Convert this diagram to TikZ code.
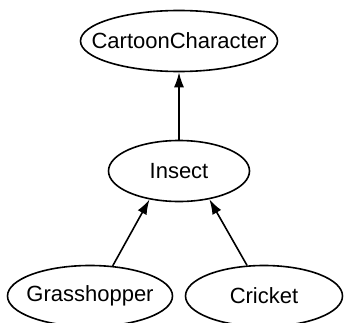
\documentclass[tikz,border=0pt]{standalone}
\usepackage{fontspec}
\setmainfont{Liberation Sans}
\usetikzlibrary{shapes.geometric,arrows.meta}
\begin{document}
\begin{tikzpicture}[x=1pt,y=1pt,
    ovale/.style={shape=ellipse,draw=black,line width=1.6pt,inner xsep=-30pt,inner ysep=-8pt,
        minimum height=61pt,font=\fontsize{22}{26}\selectfont},
    freccia/.style={line width=1.6pt,-{Latex[length=15pt,width=10pt]}}]
            \useasboundingbox (0,0) rectangle (345,322);
            \node[ovale,minimum width=197pt] (1) at (179,281) {CartoonCharacter};
            \node[ovale,minimum width=141pt] (2) at (179,151) {Insect};
            \node[ovale,minimum width=165pt] (3) at (90,26) {Grasshopper};
            \node[ovale,minimum width=157pt] (4) at (264,26) {Cricket};

            %Ora gli archi
            \draw[freccia] (2) -- (1);
            \draw[freccia] (3.53) -- (2.224);
            \draw[freccia] (4.119) -- (2.317);

        \end{tikzpicture}
\end{document}
